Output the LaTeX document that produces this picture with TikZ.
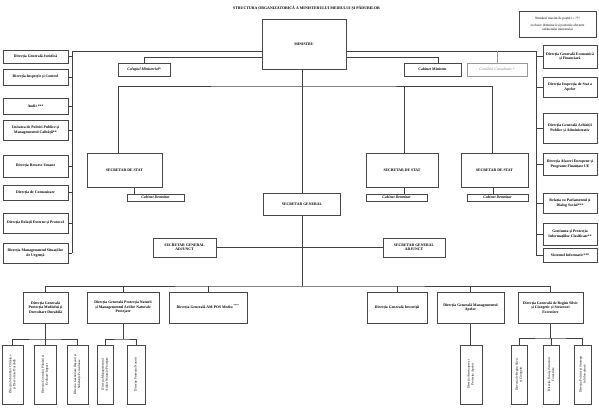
\documentclass[tikz,border=0pt]{standalone}
\usepackage{fontspec}
\setmainfont{Liberation Serif}
\newcommand\boxfont{\fontsize{3.8}{4.5}\selectfont\bfseries}
\newcommand\notefont{\fontsize{3.4}{4.1}\selectfont}
\newcommand\subfont{\fontsize{3.3}{4.0}\selectfont}
\newcommand\titlefont{\fontsize{3.9}{4.5}\selectfont\bfseries}
\tikzset{
  box/.style={draw=black!72, line width=0.9pt, fill=white, align=center, font=\boxfont, inner sep=0.5pt},
  itbox/.style={box, font=\boxfont\itshape},
  graybox/.style={box, draw=black!40, text=black!50, font=\fontsize{3.8}{4.5}\selectfont\itshape},
  subbox/.style={draw=black!72, line width=0.9pt, fill=white, inner sep=0pt},
  subtxt/.style={align=center, font=\subfont, inner sep=0pt},
  conn/.style={draw=black!75, line width=0.6pt},
  ttl/.style={font=\titlefont, inner sep=0pt}
}
\begin{document}
\begin{tikzpicture}[x=1pt,y=-1pt]
\useasboundingbox (0,0) rectangle (599,409);

\node[ttl] (T) at (306.5,8) {STRUCTURA ORGANIZATORICĂ A MINISTERULUI MEDIULUI ȘI PĂDURILOR};
\node[box, font=\notefont, minimum width=77, minimum height=26] (N) at (557.5,24)
  {Numărul maxim de posturi = ???\\[3pt]exclusiv demnitarii și posturile aferente\\cabinetului ministrului};

% top level
\node[box, minimum width=84, minimum height=50] (MIN) at (304,44) {MINISTRU};
\node[itbox, minimum width=52, minimum height=13] (COL) at (144,69.5) {Colegiul Ministerial*};
\node[box, minimum width=57, minimum height=13] (CAB) at (432.5,69.5) {Cabinet Ministru};
\node[graybox, minimum width=60, minimum height=13] (CON) at (497,69.5) {Consiliul Consultativ *};

% left column
\node[box, minimum width=65, minimum height=13] (L1) at (35.5,56.5) {Direcția Generală Juridică};
\node[box, minimum width=65, minimum height=16] (L2) at (35.5,77) {Direcția Inspecție și Control};
\node[box, minimum width=65, minimum height=16] (L3) at (35.5,106) {Audit ***};
\node[box, minimum width=65, minimum height=20] (L4) at (35.5,130) {Unitatea de Politici Publice și\\Managementul Calității**};
\node[box, minimum width=65, minimum height=22] (L5) at (35.5,166) {Direcția Resurse Umane};
\node[box, minimum width=65, minimum height=15] (L6) at (35.5,192.5) {Direcția de Comunicare};
\node[box, minimum width=65, minimum height=20] (L7) at (35.5,223) {Direcția Relații Externe și Protocol};
\node[box, minimum width=65, minimum height=20] (L8) at (35.5,253) {Direcția Managementul Situațiilor\\de Urgență};

% right column
\node[box, minimum width=54, minimum height=23] (R1) at (570,56.5) {Direcția Generală Economică\\și Financiară};
\node[box, minimum width=54, minimum height=20] (R2) at (570,87) {Direcția Inspecția de Stat a\\Apelor};
\node[box, minimum width=54, minimum height=30] (R3) at (570,128) {Direcția Generală Achiziții\\Publice și Administrativ};
\node[box, minimum width=54, minimum height=22] (R4) at (570,164) {Direcția Afaceri Europene și\\Programe Finanțate UE};
\node[box, minimum width=54, minimum height=20] (R5) at (570,203) {Relația cu Parlamentul și\\Dialog Social***};
\node[box, minimum width=54, minimum height=22] (R6) at (570,234) {Gestiunea și Protecția\\Informațiilor Clasificate**};
\node[box, minimum width=54, minimum height=14] (R7) at (570,255) {Sistemul Informatic***};

% secretaries of state
\node[box, minimum width=75, minimum height=34] (SS1) at (124.5,170) {SECRETAR DE STAT};
\node[box, minimum width=72, minimum height=34] (SS2) at (402,170) {SECRETAR DE STAT};
\node[box, minimum width=67, minimum height=34] (SS3) at (494.5,170) {SECRETAR DE STAT};
\node[itbox, minimum width=57, minimum height=7] (CD1) at (155.5,197.5) {Cabinet Demnitar};
\node[itbox, minimum width=61, minimum height=7] (CD2) at (396.5,197.5) {Cabinet Demnitar};
\node[itbox, minimum width=61, minimum height=7] (CD3) at (497.5,197.5) {Cabinet Demnitar};

% secretary general
\node[box, minimum width=77, minimum height=22] (SG) at (302,204) {SECRETAR GENERAL};
\node[box, minimum width=63, minimum height=19] (SGA1) at (184.5,247.5) {SECRETAR GENERAL\\ADJUNCT};
\node[box, minimum width=62, minimum height=19] (SGA2) at (414,247.5) {SECRETAR GENERAL\\ADJUNCT};

% bottom directorates
\node[box, minimum width=45, minimum height=31] (B1) at (45.5,307.5) {Direcția Generală\\Protecția Mediului și\\Dezvoltare Durabilă};
\node[box, minimum width=72, minimum height=31] (B2) at (123,307.5) {Direcția Generală Protecția Naturii\\și Managementul Ariilor Naturale\\Protejate};
\node[box, minimum width=78, minimum height=31] (B3) at (208,307.5) {Direcția Generală AM POS Mediu \textsuperscript{****}};
\node[box, minimum width=60, minimum height=31] (B4) at (397,307.5) {Direcția Generală Investiții};
\node[box, minimum width=67, minimum height=31] (B5) at (470.5,307.5) {Direcția Generală Managementul\\Apelor};
\node[box, minimum width=65, minimum height=31] (B6) at (550.5,307.5) {Direcția Generală de Regim Silvic\\și Cinegetic și Structuri\\Forestiere};

% sub-directorates (vertical text)
\node[subbox, minimum width=21, minimum height=59] (S1) at (12.5,374.5) {};
\node[subbox, minimum width=22, minimum height=59] (S2) at (45,374.5) {};
\node[subbox, minimum width=21, minimum height=59] (S3) at (77.5,374.5) {};
\node[subbox, minimum width=16, minimum height=59] (S4) at (105,374.5) {};
\node[subbox, minimum width=18, minimum height=59] (S5) at (136,374.5) {};
\node[subbox, minimum width=22, minimum height=59] (S6) at (471,374.5) {};
\node[subbox, minimum width=16, minimum height=59] (S7) at (519,374.5) {};
\node[subbox, minimum width=16, minimum height=59] (S8) at (551,374.5) {};
\node[subbox, minimum width=17, minimum height=59] (S9) at (582.5,374.5) {};
\node[subtxt, rotate=90] (S1t) at (S1.center) {Direcția Schimbări Climatice\\și Dezvoltare Durabilă};
\node[subtxt, rotate=90] (S2t) at (S2.center) {Direcția Controlul Poluării și\\Evaluare Impact};
\node[subtxt, rotate=90] (S3t) at (S3.center) {Direcția Gestionare Deșeuri și\\Substanțe Periculoase};
\node[subtxt, rotate=90] (S4t) at (S4.center) {Direcția Managementul\\Ariilor Naturale Protejate};
\node[subtxt, rotate=90] (S5t) at (S5.center) {Direcția Protecția Naturii};
\node[subtxt, rotate=90] (S6t) at (S6.center) {Direcția Amenajare și\\Protecția Apelor};
\node[subtxt, rotate=90] (S7t) at (S7.center) {Direcția de Regim Silvic\\și Cinegetic};
\node[subtxt, rotate=90] (S8t) at (S8.center) {Direcția Fond și Structuri\\Forestiere};
\node[subtxt, rotate=90] (S9t) at (S9.center) {Direcția Politici și Strategii\\în Silvicultură};

% coordinates
\coordinate (LT) at (72,51);
\coordinate (RT) at (536,51);
\coordinate (Y57) at (0,57);
\coordinate (SB) at (302,86);
\coordinate (BB) at (302,286);
\coordinate (Y339) at (0,339);
\coordinate (Y338) at (0,338);

% connectors top
\draw[conn] (LT) -- (MIN.west |- LT);
\draw[conn] (MIN.east |- RT) -- (RT);
\draw[conn] (LT) -- (LT |- L8.east);
\draw[conn] (RT) -- (RT |- R7.west);
\foreach \n in {L1,L2,L3,L4,L5,L6,L7,L8} \draw[conn] (\n.east) -- (LT |- \n.east);
\foreach \n in {R1,R2,R3,R4,R5,R6,R7} \draw[conn] (\n.west) -- (RT |- \n.west);
\draw[conn, draw=black!40] (CON.north |- RT) -- (CON.north);
\draw[conn] (MIN.west |- Y57) -| (COL.north);
\draw[conn] (MIN.east |- Y57) -| ([xshift=5.5pt]CAB.north);

% main vertical
\draw[conn] (SG.north |- MIN.south) -- (SG.north);
\draw[conn] (SG.south) -- (SG.south |- BB);

% secretaries of state
\draw[conn] ([xshift=-6.5pt]SS1.north) |- (SB) -| ([xshift=-2pt]SS3.north);
\draw[conn] ([xshift=2pt]SS2.north) -- ([xshift=2pt]SS2.north |- SB);
\draw[conn] ([xshift=9.5pt]SS1.south) -- ([xshift=9.5pt]SS1.south |- CD1.north);
\draw[conn] ([xshift=2pt]SS2.south) -- ([xshift=2pt]SS2.south |- CD2.north);
\draw[conn] ([xshift=-1.5pt]SS3.south) -- ([xshift=-1.5pt]SS3.south |- CD3.north);

% adjuncts
\draw[conn] (SGA1.east) -- (SGA2.west);

% bottom bus
\draw[conn] (B1.north) |- (BB) -| (B6.north);
\foreach \n in {B2,B3,B4,B5} \draw[conn] (\n.north) -- (\n.north |- BB);

% sub-directorates
\draw[conn] (B1.south) -- (B1.south |- Y339);
\draw[conn] (S1.north) |- (B1.south |- Y339) -| (S3.north);
\draw[conn] (S2.north) -- (S2.north |- Y339);
\draw[conn] (B2.south) -- (B2.south |- Y339);
\draw[conn] (S4.north) |- (B2.south |- Y339) -| (S5.north);
\draw[conn] (B5.south) -- (B5.south |- S6.north);
\draw[conn] (B6.south) -- (B6.south |- Y338);
\draw[conn] (S7.north) |- (B6.south |- Y338) -| (S9.north);
\draw[conn] (S8.north) -- (S8.north |- Y338);
\end{tikzpicture}
\end{document}
